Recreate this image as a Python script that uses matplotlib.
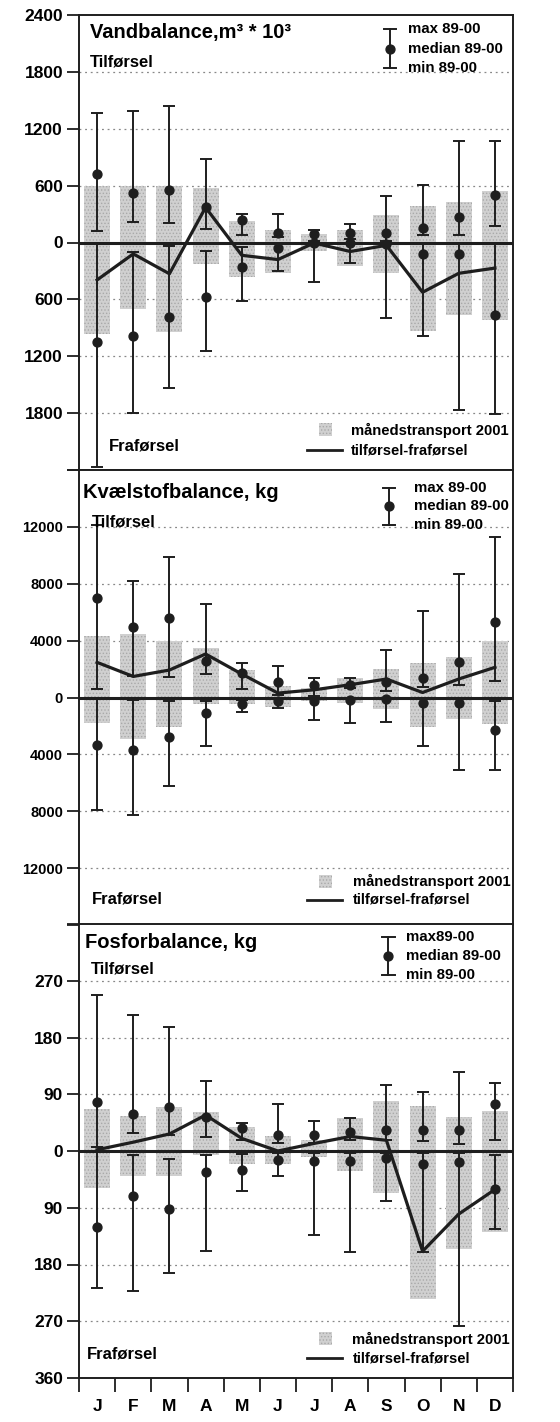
import numpy as np
import matplotlib
matplotlib.use('Agg')
import matplotlib.pyplot as plt
from matplotlib.patches import Rectangle

plt.rcParams['font.family'] = ['Liberation Sans', 'DejaVu Sans']
plt.rcParams['font.weight'] = 'bold'
plt.rcParams['hatch.color'] = '#a9a9a9'
plt.rcParams['hatch.linewidth'] = 0.6

months = ['J', 'F', 'M', 'A', 'M', 'J', 'J', 'A', 'S', 'O', 'N', 'D']

# Vandbalance, m3 * 10^3
vand_til_2001 = [600, 600, 600, 570, 230, 135, 90, 135, 285, 390, 425, 540]
vand_fra_2001 = [970, 700, 940, 225, 365, 320, 85, 245, 325, 930, 765, 815]
vand_til_max = [1365, 1385, 1435, 885, 300, 300, 135, 195, 495, 610, 1070, 1070]
vand_til_med = [725, 520, 555, 370, 235, 105, 90, 95, 100, 155, 265, 505]
vand_til_min = [120, 220, 205, 145, 80, 60, 20, 40, 20, 80, 80, 170]
vand_fra_max = [2365, 1800, 1535, 1145, 620, 305, 420, 220, 800, 990, 1765, 1805]
vand_fra_med = [1045, 990, 790, 575, 260, 55, 5, 10, 15, 120, 120, 770]
vand_fra_min = [10, 95, 35, 85, 50, 10, 5, 5, 5, 10, 10, 10]
vand_net = [-395, -120, -330, 370, -135, -180, -5, -95, -30, -525, -325, -270]

# Kvaelstofbalance, kg
kv_til_2001 = [4350, 4450, 4000, 3500, 1900, 830, 700, 1400, 2000, 2400, 2850, 4000]
kv_fra_2001 = [1800, 2900, 2070, 450, 430, 650, 250, 400, 820, 2070, 1520, 1830]
kv_til_max = [12100, 8200, 9850, 6550, 2400, 2250, 1370, 1400, 3370, 6070, 8700, 11300]
kv_til_med = [7000, 4950, 5600, 2600, 1700, 1060, 880, 880, 1060, 1400, 2470, 5300]
kv_til_min = [600, 1500, 1460, 1650, 600, 200, 100, 700, 470, 750, 880, 1180]
kv_fra_max = [7880, 8280, 6230, 3410, 1020, 750, 1600, 1770, 1720, 3410, 5100, 5100]
kv_fra_med = [3340, 3710, 2750, 1060, 490, 230, 230, 190, 120, 420, 420, 2300]
kv_fra_min = [50, 190, 280, 280, 150, 50, 50, 50, 50, 50, 50, 230]
kv_net = [2470, 1480, 1930, 3060, 1650, 310, 540, 900, 1300, 350, 1300, 2120]

# Fosforbalance, kg
fos_til_2001 = [67, 55, 70, 62, 38, 23, 18, 52, 79, 72, 54, 63]
fos_fra_2001 = [59, 40, 40, 7, 20, 20, 10, 31, 66, 234, 156, 129]
fos_til_max = [248, 215, 197, 111, 44, 74, 48, 52, 104, 93, 125, 108]
fos_til_med = [78, 58, 70, 54, 36, 26, 26, 30, 33, 33, 33, 74]
fos_til_min = [6, 29, 26, 22, 18, 12, 12, 17, 17, 16, 11, 17]
fos_fra_max = [218, 222, 194, 158, 63, 39, 134, 160, 80, 160, 278, 124]
fos_fra_med = [120, 71, 92, 33, 30, 14, 16, 16, 11, 20, 17, 61]
fos_fra_min = [2, 7, 12, 6, 4, 3, 3, 3, 3, 3, 3, 6]
fos_net = [2, 14, 27, 57, 20, 0, 12, 23, 17, -159, -100, -61]

titles = ['Vandbalance,m³ * 10³', 'Kvælstofbalance, kg', 'Fosforbalance, kg']
max_labels = ['max 89-00', 'max 89-00', 'max89-00']

fig = plt.figure(figsize=(5.6, 14.22), dpi=100)
left, width = 79 / 560, 434 / 560
ax1 = fig.add_axes([left, 1 - 470 / 1422, width, 455 / 1422])
ax2 = fig.add_axes([left, 1 - 925 / 1422, width, 455 / 1422])
ax3 = fig.add_axes([left, 1 - 1378 / 1422, width, 454 / 1422])

x = np.arange(1, 13)
ink = '#1e1e1e'
bar_grey = '#d0d0d0'


def panel(ax, til, fra, tmax, tmed, tmin, fmax, fmed, fmin, net, lim, step, labelled, tick_size):
    til, fra = np.array(til), np.array(fra)
    tmax, tmed, tmin = np.array(tmax), np.array(tmed), np.array(tmin)
    fmax, fmed, fmin = np.array(fmax), np.array(fmed), np.array(fmin)

    # maanedstransport 2001
    ax.bar(x, til, width=0.72, color=bar_grey, hatch='.....', lw=0, zorder=1)
    ax.bar(x, -fra, width=0.72, color=bar_grey, hatch='.....', lw=0, zorder=1)
    ax.axhline(0, color=ink, lw=2.2, zorder=2)

    # max / median / min 89-00
    eb = dict(fmt='o', color=ink, ms=6.4, elinewidth=1.4, capsize=4.3,
              capthick=1.4, zorder=3)
    ax.errorbar(x, tmed, yerr=[tmed - tmin, tmax - tmed], **eb)
    ax.errorbar(x, -fmed, yerr=[fmax - fmed, fmed - fmin], **eb)

    # tilfoersel - fraforsel
    ax.plot(x, net, color=ink, lw=2.3, zorder=4)

    ticks = np.arange(-lim, lim + step, step)
    ax.set_yticks(ticks)
    ax.set_yticklabels([str(abs(int(t))) if lab else '' for t, lab in zip(ticks, labelled)],
                       fontsize=tick_size, fontweight='bold')
    for t in ticks:
        if t != 0 and abs(t) != lim:
            ax.axhline(t, color='#888888', lw=0.9, ls=(0, (1.5, 3)), zorder=0)
    ax.set_ylim(-lim, lim)
    ax.set_xlim(0.5, 12.5)
    ax.tick_params(axis='y', direction='out', length=8.5, width=1.3, pad=3, color=ink)
    for s in ax.spines.values():
        s.set_linewidth(1.4)
        s.set_color(ink)


panel(ax1, vand_til_2001, vand_fra_2001, vand_til_max, vand_til_med, vand_til_min,
      vand_fra_max, vand_fra_med, vand_fra_min, vand_net, 2400, 600,
      [False, True, True, True, True, True, True, True, True], 12.5)
panel(ax2, kv_til_2001, kv_fra_2001, kv_til_max, kv_til_med, kv_til_min,
      kv_fra_max, kv_fra_med, kv_fra_min, kv_net, 16000, 4000,
      [False, True, True, True, True, True, True, True, False], 10.5)
panel(ax3, fos_til_2001, fos_fra_2001, fos_til_max, fos_til_med, fos_til_min,
      fos_fra_max, fos_fra_med, fos_fra_min, fos_net, 360, 90,
      [True, True, True, True, True, True, True, True, False], 12.5)

# text and legends, positions in axes fraction
layout = [
    # title xy, tilf xy, fraf xy, errsym x, err text x, err ys, patch y, line y, text x
    ((0.025, 0.962), (0.025, 0.897), (0.069, 0.053), 0.717, 0.757, (0.969, 0.925, 0.884), 0.088, 0.043, 0.626),
    ((0.010, 0.950), (0.030, 0.886), (0.030, 0.057), 0.715, 0.772, (0.960, 0.920, 0.879), 0.095, 0.055, 0.632),
    ((0.014, 0.959), (0.027, 0.901), (0.018, 0.053), 0.713, 0.753, (0.971, 0.930, 0.888), 0.086, 0.043, 0.630),
]

for ax, title, mlab, lay in zip([ax1, ax2, ax3], titles, max_labels, layout):
    (tx, ty), (fx, fy), (gx, gy), ex, etx, eys, py, ly, ltx = lay
    tr = ax.transAxes
    ax.text(tx, ty, title, transform=tr, fontsize=14.5, fontweight='bold', va='center', ha='left')
    ax.text(fx, fy, 'Tilførsel', transform=tr, fontsize=12, fontweight='bold', va='center')
    ax.text(gx, gy, 'Fraførsel', transform=tr, fontsize=12, fontweight='bold', va='center')

    # max / median / min legend symbol
    cw = 0.014
    ax.plot([ex, ex], [eys[0], eys[2]], transform=tr, color=ink, lw=1.4, zorder=5)
    ax.plot([ex - cw, ex + cw], [eys[0], eys[0]], transform=tr, color=ink, lw=1.4)
    ax.plot([ex - cw, ex + cw], [eys[2], eys[2]], transform=tr, color=ink, lw=1.4)
    ax.plot([ex], [eys[1]], 'o', transform=tr, color=ink, ms=6.4)
    for lab, yy in zip([mlab, 'median 89-00', 'min 89-00'], eys):
        ax.text(etx, yy, lab, transform=tr, fontsize=10.8, fontweight='bold', va='center')

    # bottom legend
    ax.add_patch(Rectangle((0.552, py - 0.0143), 0.03, 0.0286, transform=tr,
                           facecolor=bar_grey, hatch='.....', lw=0))
    ax.plot([0.525, 0.605], [ly, ly], transform=tr, color=ink, lw=2)
    ax.text(ltx, py, 'månedstransport 2001', transform=tr, fontsize=10.6,
            fontweight='bold', va='center')
    ax.text(ltx, ly, 'tilførsel-fraførsel', transform=tr, fontsize=10.6,
            fontweight='bold', va='center')

for ax in [ax1, ax2]:
    ax.set_xticks([])

ax3.set_xticks(np.arange(0.5, 13.5, 1))
ax3.set_xticklabels([])
ax3.set_xticks(x, minor=True)
ax3.set_xticklabels(months, minor=True, fontsize=12.5, fontweight='bold')
ax3.tick_params(axis='x', which='major', direction='out', length=10, width=1.3, color=ink)
ax3.tick_params(axis='x', which='minor', length=0, pad=15)

fig.savefig('out.png', dpi=100)
